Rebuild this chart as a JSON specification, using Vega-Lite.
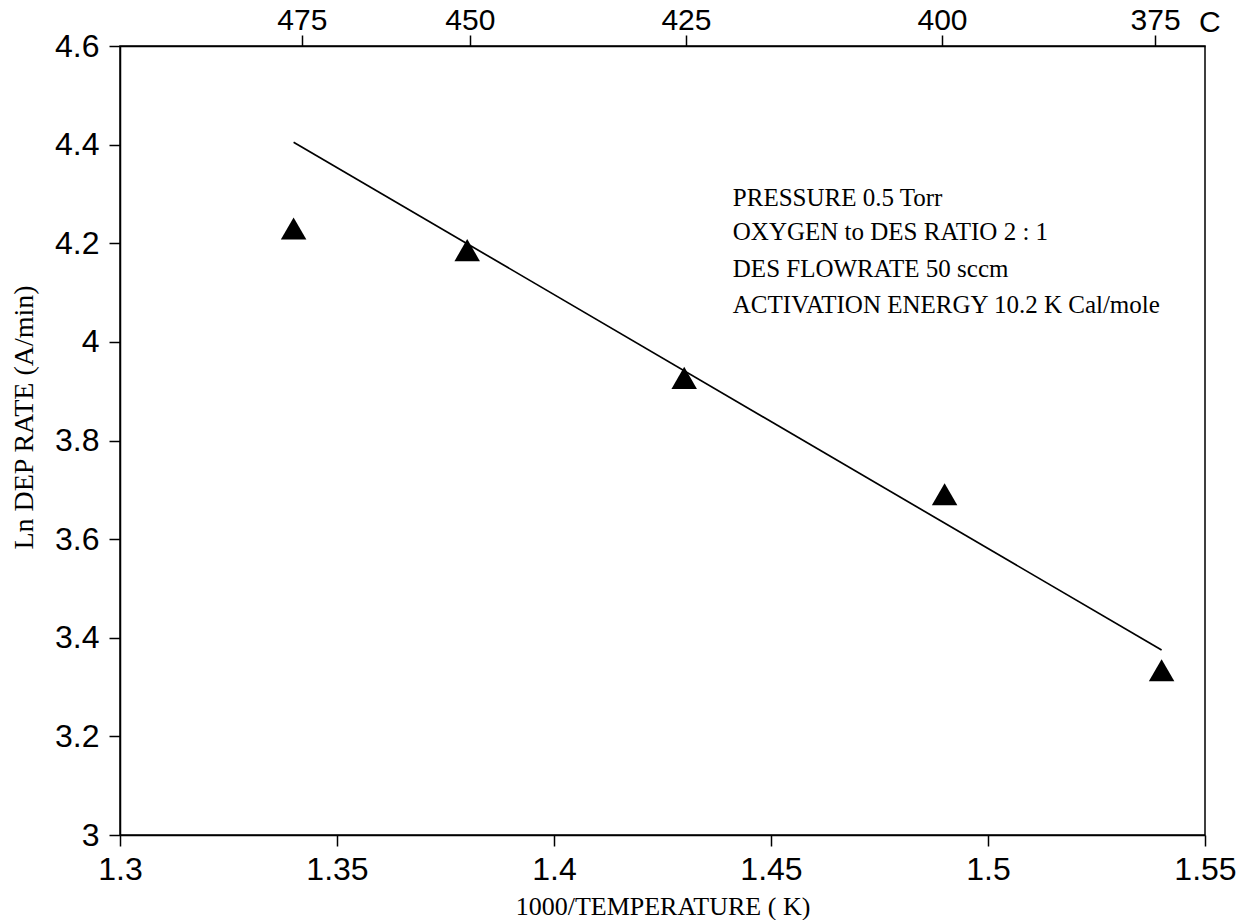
{
  "$schema": "https://vega.github.io/schema/vega-lite/v6.json",
  "autosize": {"type": "none"},
  "padding": {"left": 120, "top": 46, "right": 49, "bottom": 85},
  "width": 1085,
  "height": 789,
  "background": "white",
  "config": {
    "view": {"stroke": "black", "strokeWidth": 1.5},
    "axis": {
      "grid": false,
      "domainColor": "black",
      "domainWidth": 1.5,
      "tickColor": "black",
      "tickWidth": 1.5,
      "tickSize": 11,
      "labelColor": "black",
      "labelFont": "Liberation Sans",
      "labelFontSize": 32,
      "labelFontWeight": "normal",
      "titleColor": "black",
      "titleFont": "Liberation Serif",
      "titleFontWeight": "normal",
      "titleFontSize": 26
    }
  },
  "datasets": {
    "pts": [
      {"x": 1.34, "y": 4.23},
      {"x": 1.38, "y": 4.186},
      {"x": 1.43, "y": 3.927},
      {"x": 1.49, "y": 3.691},
      {"x": 1.54, "y": 3.334}
    ],
    "fit": [
      {"x": 1.34, "y": 4.405},
      {"x": 1.54, "y": 3.375}
    ],
    "notes": [
      {"x": 1.4412, "y": 4.2755, "t": "PRESSURE 0.5 Torr"},
      {"x": 1.4412, "y": 4.2065, "t": "OXYGEN to DES RATIO 2 : 1"},
      {"x": 1.4412, "y": 4.1314, "t": "DES FLOWRATE 50 sccm"},
      {"x": 1.4412, "y": 4.0584, "t": "ACTIVATION ENERGY 10.2 K Cal/mole"}
    ],
    "unit": [
      {"x": 1.5511, "y": 4.628, "t": "C"}
    ]
  },
  "encoding": {
    "y": {
      "field": "y", "type": "quantitative",
      "scale": {"domain": [3, 4.6], "nice": false, "zero": false},
      "axis": {
        "orient": "left",
        "values": [3, 3.2, 3.4, 3.6, 3.8, 4, 4.2, 4.4, 4.6],
        "format": "~g",
        "labelPadding": 10,
        "labelFlush": false,
        "title": "Ln DEP RATE (A/min)",
        "titleFontSize": 28,
        "titlePadding": 16,
        "titleY": 371
      }
    }
  },
  "layer": [
    {
      "data": {"name": "pts"},
      "mark": {"type": "point", "shape": "triangle-up", "filled": true, "color": "black", "opacity": 1, "size": 650},
      "encoding": {
        "x": {
          "field": "x", "type": "quantitative",
          "scale": {"domain": [1.3, 1.55], "nice": false, "zero": false},
          "axis": {
            "orient": "bottom",
            "values": [1.3, 1.35, 1.4, 1.45, 1.5, 1.55],
            "format": "~g",
            "labelPadding": 8,
            "labelFlush": false,
            "title": "1000/TEMPERATURE ( K)",
            "titlePadding": 8
          }
        }
      }
    },
    {
      "data": {"name": "fit"},
      "mark": {"type": "line", "color": "black", "strokeWidth": 1.7},
      "encoding": {
        "x": {
          "field": "x", "type": "quantitative",
          "axis": {
            "orient": "top",
            "values": [1.3419, 1.3806, 1.4304, 1.4894, 1.5385],
            "labelExpr": "datum.value < 1.36 ? '475' : datum.value < 1.41 ? '450' : datum.value < 1.46 ? '425' : datum.value < 1.51 ? '400' : '375'",
            "labelFontSize": 30,
            "labelPadding": 0,
            "tickSize": 11,
            "labelFlush": false,
            "title": null
          }
        }
      }
    },
    {
      "data": {"name": "notes"},
      "mark": {"type": "text", "align": "left", "baseline": "alphabetic", "font": "Liberation Serif", "fontSize": 25, "color": "black"},
      "encoding": {
        "x": {"field": "x", "type": "quantitative", "axis": null},
        "text": {"field": "t"}
      }
    },
    {
      "data": {"name": "unit"},
      "mark": {"type": "text", "align": "center", "baseline": "alphabetic", "font": "Liberation Sans", "fontSize": 30, "color": "black", "clip": false},
      "encoding": {
        "x": {"field": "x", "type": "quantitative", "axis": null},
        "text": {"field": "t"}
      }
    }
  ],
  "resolve": {"axis": {"x": "independent"}}
}
